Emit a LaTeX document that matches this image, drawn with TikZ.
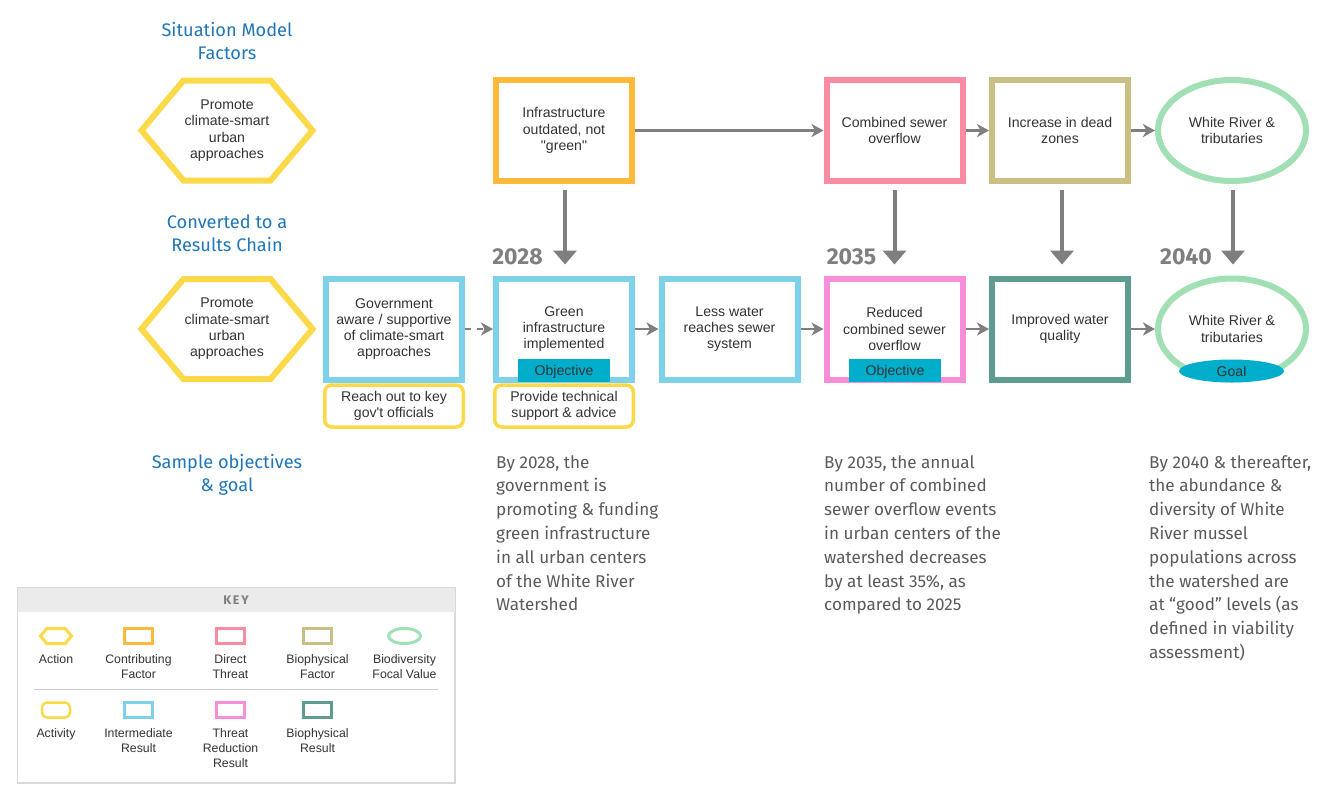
\documentclass[tikz,border=0pt]{standalone}
\usepackage{fontspec}
\setmainfont{Liberation Sans}[Ligatures=TeXOff]
\newfontfamily\bodyfont{Fira Sans}
\newfontfamily\keyfont[LetterSpace=14]{Fira Sans}
\usetikzlibrary{arrows.meta, shapes.geometric, shapes.symbols, positioning}
\definecolor{actionyellow}{HTML}{FBD949}
\definecolor{factororange}{HTML}{FDB93A}
\definecolor{threatpink}{HTML}{F98CA2}
\definecolor{bioolive}{HTML}{C9BF83}
\definecolor{focalgreen}{HTML}{A0E0B4}
\definecolor{resultblue}{HTML}{7DD1E9}
\definecolor{reducepink}{HTML}{F78ED9}
\definecolor{bioteal}{HTML}{5F9C90}
\definecolor{tagcyan}{HTML}{00AECB}
\definecolor{flowgrey}{HTML}{7F7F7F}
\definecolor{headblue}{HTML}{1F76B8}
\definecolor{labelgrey}{HTML}{333333}
\definecolor{bodygrey}{HTML}{5A5A5A}
\tikzset{
  label14/.style={font=\fontsize{14.1}{16.3}\selectfont,text=labelgrey,align=center,inner sep=0pt},
  bigbox/.style={label14,draw,rectangle,line width=6pt,minimum width=136pt,minimum height=101pt},
  hexbox/.style={label14,draw=actionyellow,signal,signal to=east and west,signal pointer angle=100,line width=6pt,minimum width=171pt,minimum height=100pt},
  ovalbox/.style={label14,draw=focalgreen,ellipse,line width=6pt,minimum width=148pt,minimum height=101pt},
  activitybox/.style={label14,draw=actionyellow,rectangle,rounded corners=7pt,line width=3.5pt,minimum width=138.5pt,minimum height=42pt},
  tagbox/.style={font=\fontsize{14.1}{16.3}\selectfont,text=labelgrey,inner sep=0pt,fill=tagcyan,rectangle,text height=13pt,text depth=3pt,minimum width=92pt,minimum height=23pt},
  goaltag/.style={label14,fill=tagcyan,ellipse,minimum width=105pt,minimum height=23pt},
  headtext/.style={font=\bodyfont\fontsize{18.2}{23}\selectfont,text=headblue,align=center,inner sep=0pt},
  bodytext/.style={font=\bodyfont\fontsize{17.1}{23.8}\selectfont,text=bodygrey,align=left,inner sep=0pt,anchor=north west},
  yeartext/.style={font=\bodyfont\bfseries\fontsize{23}{25}\selectfont,text=flowgrey,inner sep=0pt},
  keytext/.style={font=\fontsize{12.3}{15}\selectfont,text=labelgrey,align=center,inner sep=0pt,anchor=north},
  keyrect/.style={draw,rectangle,line width=3pt,minimum width=28pt,minimum height=15pt,inner sep=0pt},
  flow/.style={draw=flowgrey,line width=2.4pt,-{Stealth[length=12pt,width=13pt,inset=3.5pt]}},
  dropflow/.style={draw=flowgrey,line width=4pt,-{Triangle[length=14pt,width=23pt]},shorten <=6pt,shorten >=11pt}
}
\begin{document}
\begin{tikzpicture}[x=1pt,y=-1pt]
\useasboundingbox (0,0) rectangle (1337,801);
\fill[white] (0,0) rectangle (1337,801);
\node[headtext] (headsituation) at (227,41) {Situation Model\\Factors};
\node[headtext] (headconverted) at (227,233.5) {Converted to a\\Results Chain};
\node[headtext] (headsample) at (227,475) {Sample objectives\\\& goal};
\node[hexbox] (hextop) at (227,130.5) {Promote\\climate-smart\\urban\\approaches};
\node[bigbox,draw=factororange] (infra) at (564,130.5) {Infrastructure\\outdated, not\\"green"};
\node[bigbox,draw=threatpink] (combined) at (894.5,130.5) {Combined sewer\\overflow};
\node[bigbox,draw=bioolive] (deadzones) at (1060,130.5) {Increase in dead\\zones};
\node[ovalbox] (rivertop) at (1232,130.5) {White River \&\\tributaries};
\node[hexbox] (hexbottom) at (227,329) {Promote\\climate-smart\\urban\\approaches};
\node[bigbox,draw=resultblue] (gov) at (394,329) {Government\\aware / supportive\\of climate-smart\\approaches};
\node[bigbox,draw=resultblue] (green) at (564,329) {Green\\infrastructure\\implemented};
\node[bigbox,draw=resultblue] (lesswater) at (729.5,329) {Less water\\reaches sewer\\system};
\node[bigbox,draw=reducepink] (reduced) at (894.5,329) {Reduced\\combined sewer\\overflow};
\node[bigbox,draw=bioteal] (improved) at (1060,329) {Improved water\\quality};
\node[ovalbox] (riverbottom) at (1232,329) {White River \&\\tributaries};
\node[tagbox] (objgreen) at (564,370.5) {Objective};
\node[tagbox] (objreduced) at (895,370.5) {Objective};
\node[goaltag] (goal) at (1231.5,371) {Goal};
\node[activitybox] (reachout) at (394,406) {Reach out to key\\gov't officials};
\node[activitybox] (support) at (564,406) {Provide technical\\support \& advice};
\node[yeartext] (yeara) at (517.5,257) {2028};
\node[yeartext] (yearb) at (851.5,257) {2035};
\node[yeartext] (yearc) at (1186,257) {2040};
\draw[flow] (infra) -- (combined);
\draw[flow] (combined) -- (deadzones);
\draw[flow] (deadzones) -- (rivertop);
\draw[flow,dash pattern=on 6pt off 6pt] (gov) -- (green);
\draw[flow] (green) -- (lesswater);
\draw[flow] (lesswater) -- (reduced);
\draw[flow] (reduced) -- (improved);
\draw[flow] (improved) -- (riverbottom);
\draw[dropflow] ([xshift=1pt]infra.south) -- ([xshift=1pt]green.north);
\draw[dropflow] (combined) -- (reduced);
\draw[dropflow] ([xshift=2pt]deadzones.south) -- ([xshift=2pt]improved.north);
\draw[dropflow] ([xshift=1pt]rivertop.south) -- ([xshift=1pt]riverbottom.north);
\node[bodytext] (bodya) at (496,455) {By 2028, the\\government is\\promoting \& funding\\green infrastructure\\in all urban centers\\of the White River\\Watershed};
\node[bodytext] (bodyb) at (824,455) {By 2035, the annual\\number of combined\\sewer overflow events\\in urban centers of the\\watershed decreases\\by at least 35\%, as\\compared to 2025};
\node[bodytext] (bodyc) at (1149,455) {By 2040 \& thereafter,\\the abundance \&\\diversity of White\\River mussel\\populations across\\the watershed are\\at “good” levels (as\\defined in viability\\assessment)};
\draw[draw=black!15,line width=1.2pt] (17.5,587.5) rectangle (455,783);
\fill[black!8] (18,588) rectangle (454.5,612);
\node[font=\keyfont\bfseries\fontsize{12.5}{14}\selectfont,text=flowgrey,inner sep=0pt] (keytitle) at (236,600) {KEY};
\draw[black!20,line width=0.8pt] (34,689.5) -- (438,689.5);
\node[draw=actionyellow,signal,signal to=east and west,signal pointer angle=100,line width=3pt,minimum width=31pt,minimum height=15pt,inner sep=0pt] (keyaction) at (56,636) {};
\node[keyrect,draw=factororange] (keyfactor) at (138.5,636) {};
\node[keyrect,draw=threatpink] (keythreat) at (230.5,636) {};
\node[keyrect,draw=bioolive] (keybio) at (317.5,636) {};
\node[draw=focalgreen,ellipse,line width=3pt,minimum width=32pt,minimum height=15pt,inner sep=0pt] (keyfocal) at (404.5,636) {};
\node[draw=actionyellow,rectangle,rounded corners=5pt,line width=2.5pt,minimum width=28pt,minimum height=15pt,inner sep=0pt] (keyactivity) at (56,710) {};
\node[keyrect,draw=resultblue] (keyresult) at (138.5,710) {};
\node[keyrect,draw=reducepink] (keyreduce) at (230.5,710) {};
\node[keyrect,draw=bioteal] (keybioresult) at (317.5,710) {};
\node[keytext] (textaction) at (56,654) {Action};
\node[keytext] (textfactor) at (138.5,654) {Contributing\\Factor};
\node[keytext] (textthreat) at (230.5,654) {Direct\\Threat};
\node[keytext] (textbio) at (317.5,654) {Biophysical\\Factor};
\node[keytext] (textfocal) at (404.5,654) {Biodiversity\\Focal Value};
\node[keytext] (textactivity) at (56,728) {Activity};
\node[keytext] (textresult) at (138.5,728) {Intermediate\\Result};
\node[keytext] (textreduce) at (230.5,728) {Threat\\Reduction\\Result};
\node[keytext] (textbioresult) at (317.5,728) {Biophysical\\Result};
\end{tikzpicture}
\end{document}
